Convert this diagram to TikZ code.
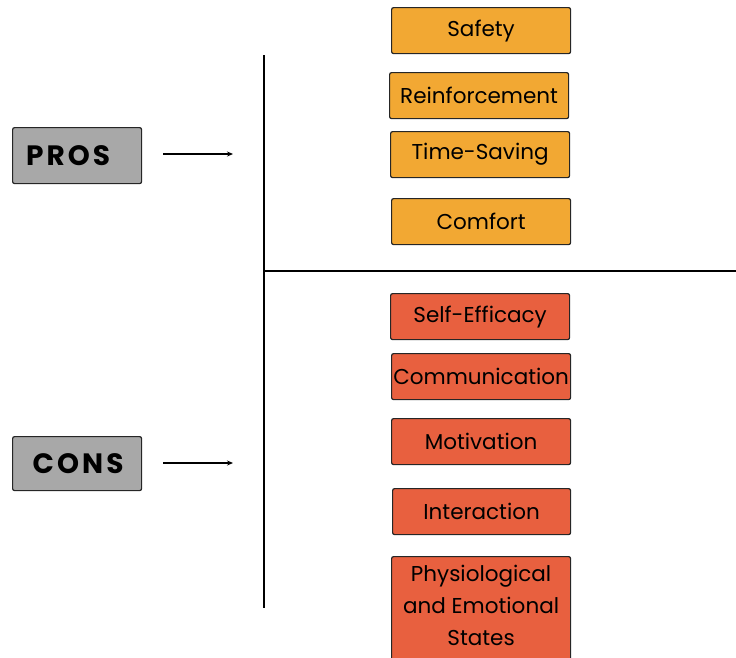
\documentclass[tikz,border=0pt]{standalone}
\usepackage{fontspec}
\setmainfont{Poppins}
\usetikzlibrary{arrows.meta}
\definecolor{prosfill}{HTML}{F2A833}
\definecolor{consfill}{HTML}{E8603F}
\definecolor{headfill}{HTML}{A8A8A8}
\definecolor{edge}{HTML}{262626}
\begin{document}
\begin{tikzpicture}[x=1pt,y=-1pt,
  box/.style={draw=edge,line width=1.2pt,rounded corners=2pt,minimum width=179pt,minimum height=46pt,
    anchor=north west,inner sep=0pt,font=\fontsize{21.5}{32}\selectfont,align=center},
  pro/.style={box,fill=prosfill},
  con/.style={box,fill=consfill},
  head/.style={draw=edge,line width=1.2pt,rounded corners=2pt,fill=headfill,minimum width=129pt,
    minimum height=56pt,anchor=north west,inner sep=0pt,
    font=\fontsize{28}{32}\selectfont\bfseries\addfontfeatures{LetterSpace=11}},
  arr/.style={-{Stealth[length=6pt,width=5pt]},line width=1.1pt}]
\useasboundingbox (0,0) rectangle (736,657);

% headings on the left
\node[head] (pros) at (12,127) {\hspace*{-18pt}PROS};
\node[head,minimum height=54pt] (cons) at (12,436) {\hspace*{2pt}CONS};

\coordinate (pa) at (163,154);
\coordinate (pb) at (233,154);
\coordinate (ca) at (163,463);
\coordinate (cb) at (233,463);
\draw[arr] (pa) -- (pb);
\draw[arr] (ca) -- (cb);

% dividing lines
\coordinate (vt) at (264,55);
\coordinate (vb) at (264,608);
\coordinate (hl) at (264,271);
\coordinate (hr) at (736,271);
\draw[line width=1.3pt] (vt) -- (vb);
\draw[line width=1.3pt] (hl) -- (hr);

% advantages
\node[pro] (safety) at (391,7) {Safety};
\node[pro] (reinf) at (389,72) {Reinforcement};
\node[pro] (time) at (390,131) {Time-Saving};
\node[pro] (comfort) at (391,198) {Comfort};

% disadvantages
\node[con] (selfeff) at (390,293) {Self-Efficacy};
\node[con] (comm) at (391,353) {Communication};
\node[con] (motiv) at (391,418) {Motivation};
\node[con,minimum width=178pt] (inter) at (392,488) {Interaction};
\node[con,minimum height=110pt] (physio) at (391,556)
  {\parbox[c]{175pt}{\centering\fontsize{21.5}{32}\selectfont
    Physiological\\and Emotional\\States\par\vspace*{12pt}}};
\end{tikzpicture}
\end{document}
